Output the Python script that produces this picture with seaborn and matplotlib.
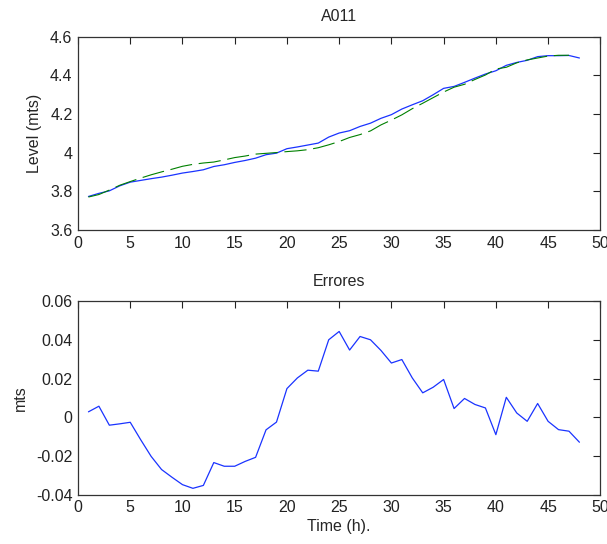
import numpy as np
import pandas as pd
import matplotlib
matplotlib.use("Agg")
import matplotlib.pyplot as plt
import seaborn as sns

hours = list(range(1, 49))

level_measured = [3.774, 3.790, 3.803, 3.829, 3.848, 3.857, 3.866, 3.874, 3.884, 3.895,
                  3.903, 3.912, 3.929, 3.938, 3.950, 3.960, 3.972, 3.990, 3.998, 4.021,
                  4.030, 4.040, 4.050, 4.081, 4.102, 4.114, 4.136, 4.153, 4.178, 4.197,
                  4.226, 4.248, 4.269, 4.300, 4.333, 4.343, 4.364, 4.386, 4.407, 4.424,
                  4.452, 4.467, 4.478, 4.497, 4.502, 4.502, 4.503, 4.490]

level_model = [3.771, 3.784, 3.807, 3.832, 3.851, 3.869, 3.886, 3.901, 3.915, 3.930,
               3.940, 3.947, 3.952, 3.963, 3.975, 3.983, 3.993, 3.997, 4.001, 4.006,
               4.010, 4.016, 4.026, 4.041, 4.058, 4.079, 4.094, 4.113, 4.144, 4.169,
               4.196, 4.228, 4.256, 4.285, 4.314, 4.339, 4.354, 4.379, 4.402, 4.433,
               4.442, 4.465, 4.480, 4.490, 4.500, 4.504, 4.504]

errors = [0.0028, 0.0057, -0.0041, -0.0034, -0.0026, -0.0116, -0.0202, -0.0270, -0.0310, -0.0348,
          -0.0367, -0.0352, -0.0234, -0.0253, -0.0253, -0.0228, -0.0207, -0.0065, -0.0025, 0.0148,
          0.0203, 0.0243, 0.0238, 0.0400, 0.0443, 0.0347, 0.0417, 0.0400, 0.0345, 0.0280,
          0.0298, 0.0203, 0.0126, 0.0155, 0.0195, 0.0045, 0.0097, 0.0066, 0.0048, -0.0090,
          0.0103, 0.0022, -0.0021, 0.0071, -0.0021, -0.0064, -0.0072, -0.0129]

top_yticks = [3.6, 3.8, 4.0, 4.2, 4.4, 4.6]
top_ytick_labels = ["3.6", "3.8", "4", "4.2", "4.4", "4.6"]
bot_yticks = [-0.04, -0.02, 0.0, 0.02, 0.04, 0.06]
bot_ytick_labels = ["-0.04", "-0.02", "0", "0.02", "0.04", "0.06"]
xticks = [0, 5, 10, 15, 20, 25, 30, 35, 40, 45, 50]

sns.set_style("white")
plt.rcParams['font.family'] = ['Liberation Sans', 'DejaVu Sans']

df = pd.DataFrame({"t": hours, "meas": level_measured, "err": errors})
df_model = pd.DataFrame({"t": hours[:len(level_model)], "model": level_model})

fig = plt.figure(figsize=(6.07, 5.44), dpi=100)
ax1 = fig.add_axes([0.1285, 0.577, 0.8605, 0.3555])
ax2 = fig.add_axes([0.1285, 0.0906, 0.8605, 0.356])

fs = 11.5

sns.lineplot(data=df, x="t", y="meas", ax=ax1, color="#1a33ff", linewidth=0.9)
sns.lineplot(data=df_model, x="t", y="model", ax=ax1, color="#008000", linewidth=0.8,
             linestyle=(0, (20, 6)))
sns.lineplot(data=df, x="t", y="err", ax=ax2, color="#1a33ff", linewidth=0.9)

ax1.set_xlim(0, 50)
ax1.set_ylim(3.6, 4.6)
ax1.set_yticks(top_yticks)
ax1.set_yticklabels(top_ytick_labels)
ax1.set_title("A011", fontsize=fs, pad=11)
ax1.set_xlabel("")
ax1.set_ylabel("Level (mts)", fontsize=fs, labelpad=6)

ax2.set_xlim(0, 50)
ax2.set_ylim(-0.04, 0.06)
ax2.set_yticks(bot_yticks)
ax2.set_yticklabels(bot_ytick_labels)
ax2.set_title("Errores", fontsize=fs, pad=11)
ax2.set_xlabel("Time (h).", fontsize=fs, labelpad=3)
ax2.set_ylabel("mts", fontsize=fs, labelpad=6)

for ax in (ax1, ax2):
    ax.set_xticks(xticks)
    ax.tick_params(direction="in", length=5, width=0.8, top=True, right=True,
                   labelsize=fs, colors="#222222", pad=4)
    for s in ax.spines.values():
        s.set_visible(True)
        s.set_color("#333333")
        s.set_linewidth(0.9)
    ax.grid(False)

fig.savefig("out.png", dpi=100)
